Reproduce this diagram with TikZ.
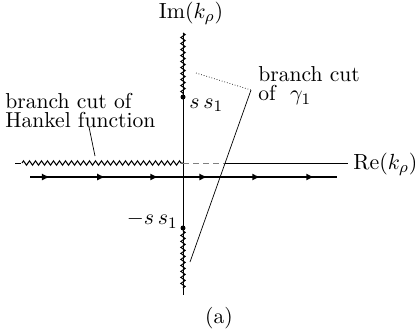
\documentclass[tikz,border=0pt]{standalone}
\usetikzlibrary{decorations.pathmorphing,decorations.markings,arrows.meta}
\begin{document}
\begin{tikzpicture}[x=0.5pt,y=-0.5pt,
  lbl/.style={inner sep=1pt,font=\fontsize{10.8}{9.5}\selectfont},
  axis/.style={line width=0.4pt},
  cut/.style={line width=0.5pt,decorate,decoration={zigzag,segment length=3pt,amplitude=1.1pt}},
  leader/.style={line width=0.35pt},
  contour/.style={line width=1.4pt,postaction={decorate},
    decoration={markings,
      mark=at position 0.065 with {\arrow{Latex[length=4pt,width=3.5pt]}},
      mark=at position 0.245 with {\arrow{Latex[length=4pt,width=3.5pt]}},
      mark=at position 0.418 with {\arrow{Latex[length=4pt,width=3.5pt]}},
      mark=at position 0.578 with {\arrow{Latex[length=4pt,width=3.5pt]}},
      mark=at position 0.75 with {\arrow{Latex[length=4pt,width=3.5pt]}},
      mark=at position 0.926 with {\arrow{Latex[length=4pt,width=3.5pt]}}}},
  dot/.style={circle,fill,inner sep=0pt,minimum size=2.5pt}]
\useasboundingbox (0,0) rectangle (415,334);
% axis end points
\coordinate (O) at (183,163);
\coordinate (ytop) at (183,33);
\coordinate (ybot) at (183,295);
\coordinate (xl) at (15,163);
\coordinate (xz) at (22,163);
\coordinate (xd) at (225,163);
\coordinate (xr) at (348,163);
\coordinate (cl) at (30,177);
\coordinate (cr) at (337,177);
\coordinate (zb) at (183,288);
\node[dot] (p1) at (183,97) {};
\node[dot] (p2) at (183,228) {};
% labels
\node[lbl] (im) at (191,13) {$\mathrm{Im}(k_\rho)$};
\node[lbl,anchor=west] (re) at (351,164) {$\mathrm{Re}(k_\rho)$};
\node[lbl,anchor=west] (ss) at (187,105) {$s\,s_1$};
\node[lbl,anchor=east] (mss) at (180,220) {$-s\,s_1$};
\node[lbl,align=left,anchor=west] (hank) at (3,110) {branch cut of\\Hankel function};
\node[lbl,align=left,anchor=west] (gam) at (256,86) {branch cut\\of\ \ $\gamma_1$};
\node[lbl] (a) at (219,318) {(a)};
% axes
\draw[axis] (ytop) -- (ybot);
\draw[axis,dashed,dash pattern=on 3pt off 2pt] (xl) -- (xz);
\draw[axis,densely dashed,gray] (O) -- (xd);
\draw[axis] (xd) -- (xr);
% branch cuts
\draw[cut] (xz) -- (O);
\draw[cut] (ytop) -- (p1);
\draw[cut] (p2) -- (zb);
% contour
\draw[contour] (cl) -- (cr);
% leaders
\coordinate (g1) at (251,90);
\coordinate (g2) at (196,73);
\coordinate (g3) at (190,262);
\draw[leader,densely dotted] (g2) -- (g1);
\draw[leader] (g1) -- (g3);
\coordinate (h1) at (89,127);
\coordinate (h2) at (95,156);
\draw[leader] (h1) -- (h2);
\end{tikzpicture}
\end{document}
